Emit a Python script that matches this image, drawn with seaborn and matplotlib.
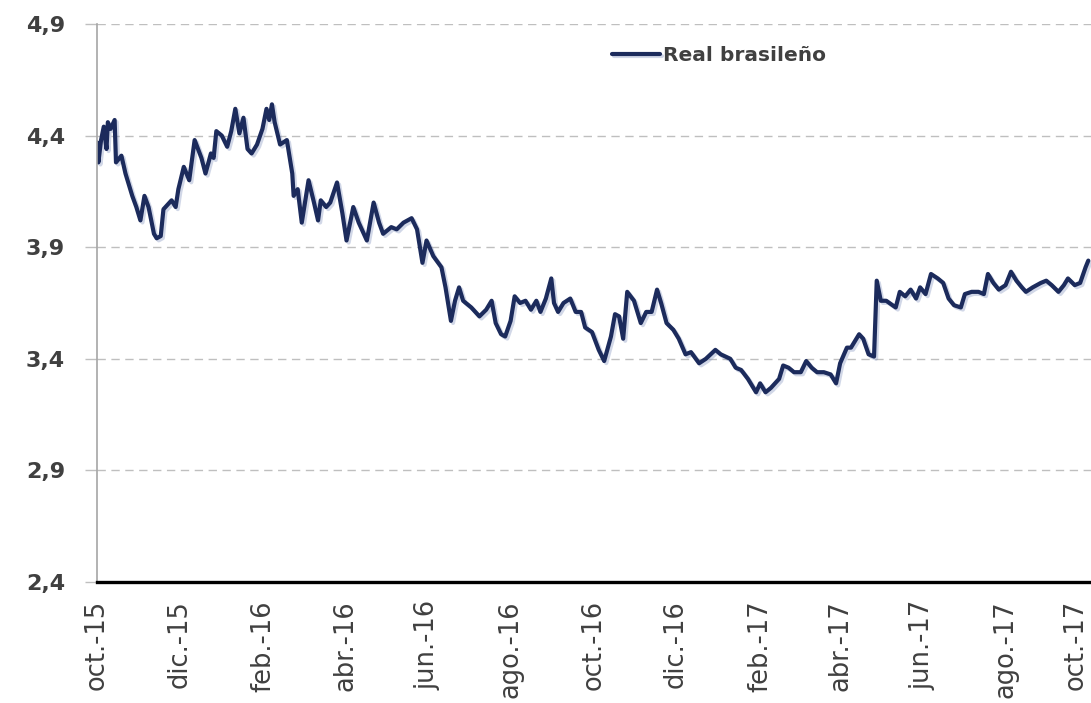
import pandas as pd
import matplotlib
matplotlib.use("Agg")
import matplotlib.pyplot as plt
import matplotlib.patheffects as pe
import seaborn as sns

# Exchange-rate series: days counted from start_date, value per observation
start_date = "2015-10-01"
obs_day = [
    0, 1, 3, 5, 7, 8, 10, 13, 14, 18, 21, 26, 29, 32, 35, 38, 42, 44, 47, 49,
    55, 58, 60, 64, 68, 72, 77, 80, 84, 86, 88, 92, 96, 99, 102, 105, 108, 111, 114, 118,
    122, 125, 127, 129, 131, 135, 140, 144, 145, 148, 151, 156, 160, 163, 165, 169, 172, 177, 181, 184,
    189, 193, 199, 204, 208, 211, 217, 221, 226, 232, 236, 240, 243, 248, 254, 257, 261, 264, 267, 270,
    276, 282, 287, 291, 294, 298, 301, 305, 308, 312, 316, 320, 324, 327, 331, 335, 337, 340, 344, 349,
    353, 357, 360, 365, 370, 374, 379, 382, 385, 388, 391, 396, 401, 405, 409, 413, 416, 420, 425, 429,
    434, 438, 444, 449, 456, 460, 467, 471, 475, 480, 486, 489, 493, 497, 503, 506, 510, 514, 519, 523,
    527, 531, 536, 541, 545, 548, 553, 556, 562, 565, 569, 573, 575, 578, 582, 589, 592, 596, 600, 604,
    607, 611, 615, 620, 624, 628, 632, 637, 640, 645, 650, 654, 657, 661, 665, 670, 674, 678, 682, 685,
    690, 696, 700, 704, 709, 713, 716, 721, 725, 729, 731,
]
brl_rate = [
    4.37, 4.28, 4.38, 4.44, 4.34, 4.46, 4.43, 4.47, 4.28, 4.31, 4.23, 4.13, 4.08, 4.02, 4.13, 4.08, 3.96, 3.94, 3.95, 4.07,
    4.11, 4.08, 4.16, 4.26, 4.20, 4.38, 4.30, 4.23, 4.32, 4.30, 4.42, 4.40, 4.35, 4.42, 4.52, 4.41, 4.48, 4.34, 4.32, 4.36,
    4.43, 4.52, 4.47, 4.54, 4.46, 4.36, 4.38, 4.23, 4.13, 4.16, 4.01, 4.20, 4.10, 4.02, 4.11, 4.08, 4.10, 4.19, 4.05, 3.93,
    4.08, 4.01, 3.93, 4.10, 4.01, 3.96, 3.99, 3.98, 4.01, 4.03, 3.98, 3.83, 3.93, 3.86, 3.81, 3.72, 3.57, 3.66, 3.72, 3.66,
    3.63, 3.59, 3.62, 3.66, 3.56, 3.51, 3.50, 3.57, 3.68, 3.65, 3.66, 3.62, 3.66, 3.61, 3.67, 3.76, 3.65, 3.61, 3.65, 3.67,
    3.61, 3.61, 3.54, 3.52, 3.44, 3.39, 3.50, 3.60, 3.59, 3.49, 3.70, 3.66, 3.56, 3.61, 3.61, 3.71, 3.65, 3.56, 3.53, 3.49,
    3.42, 3.43, 3.38, 3.40, 3.44, 3.42, 3.40, 3.36, 3.35, 3.31, 3.25, 3.29, 3.25, 3.27, 3.31, 3.37, 3.36, 3.34, 3.34, 3.39,
    3.36, 3.34, 3.34, 3.33, 3.29, 3.38, 3.45, 3.45, 3.51, 3.49, 3.42, 3.41, 3.75, 3.66, 3.66, 3.63, 3.70, 3.68, 3.71, 3.67,
    3.72, 3.69, 3.78, 3.76, 3.74, 3.67, 3.64, 3.63, 3.69, 3.70, 3.70, 3.69, 3.78, 3.74, 3.71, 3.73, 3.79, 3.75, 3.72, 3.70,
    3.72, 3.74, 3.75, 3.73, 3.70, 3.73, 3.76, 3.73, 3.74, 3.81, 3.84,
]
series_name = "Real brasileño"

tick_dates = [
    "2015-10-01", "2015-12-01", "2016-02-01", "2016-04-01", "2016-06-01", "2016-08-01",
    "2016-10-01", "2016-12-01", "2017-02-01", "2017-04-01", "2017-06-01", "2017-08-01",
    "2017-10-01",
]
tick_labels = [
    "oct.-15", "dic.-15", "feb.-16", "abr.-16", "jun.-16", "ago.-16",
    "oct.-16", "dic.-16", "feb.-17", "abr.-17", "jun.-17", "ago.-17",
    "oct.-17",
]
y_ticks = [2.4, 2.9, 3.4, 3.9, 4.4, 4.9]

t0 = pd.Timestamp(start_date)
df = pd.DataFrame({
    "fecha": t0 + pd.to_timedelta(obs_day, unit="D"),
    "valor": brl_rate,
})

sns.set_theme(style="white")
plt.rcParams["font.family"] = ["DejaVu Sans"]
text_color = "#404040"

fig = plt.figure(figsize=(10.91, 7.03), dpi=100)
ax = fig.add_axes([97 / 1091, 121 / 703, 994 / 1091, 558 / 703])

sns.lineplot(data=df, x="fecha", y="valor", ax=ax, color="#1c2b5c",
             linewidth=3.0, label=series_name)
ax.get_lines()[0].set_path_effects([
    pe.SimpleLineShadow(offset=(1.5, -1.5), shadow_color="#7d8fbd", alpha=0.35),
    pe.Normal(),
])

ax.set_xlim(t0, t0 + pd.Timedelta(days=733))
ax.set_ylim(y_ticks[0], y_ticks[-1])

ax.set_yticks(y_ticks)
ax.set_yticklabels([f"{v:.1f}".replace(".", ",") for v in y_ticks],
                   fontsize=16, fontweight="bold", color=text_color)
ax.set_xticks(pd.to_datetime(tick_dates))
ax.set_xticklabels(tick_labels, rotation=90, fontsize=18.5, color=text_color)

# keep the last month label inside the figure's right edge
ax.get_xticklabels()[-1].set_horizontalalignment("right")

ax.tick_params(axis="y", left=True, length=9, width=1, color="#bfbfbf", pad=14)
ax.tick_params(axis="x", bottom=False, length=0, pad=13)

ax.yaxis.grid(True, linestyle=(0, (6, 4)), color="#bfbfbf", linewidth=1.0)
ax.xaxis.grid(False)
ax.set_axisbelow(True)

for side in ("top", "right"):
    ax.spines[side].set_visible(False)
ax.spines["left"].set_color("#a6a6a6")
ax.spines["left"].set_linewidth(1.2)
ax.spines["bottom"].set_color("#000000")
ax.spines["bottom"].set_linewidth(2.4)
ax.set_xlabel("")
ax.set_ylabel("")

leg = ax.legend(loc="center left", bbox_to_anchor=(0.518, 0.944), frameon=False,
                handlelength=2.4, handletextpad=0.15, borderpad=0, borderaxespad=0,
                prop={"size": 14.5, "weight": "bold"})
for t in leg.get_texts():
    t.set_color(text_color)
for h in leg.legend_handles:
    h.set_linewidth(3.0)

fig.savefig("out.png", dpi=100, facecolor="white")
